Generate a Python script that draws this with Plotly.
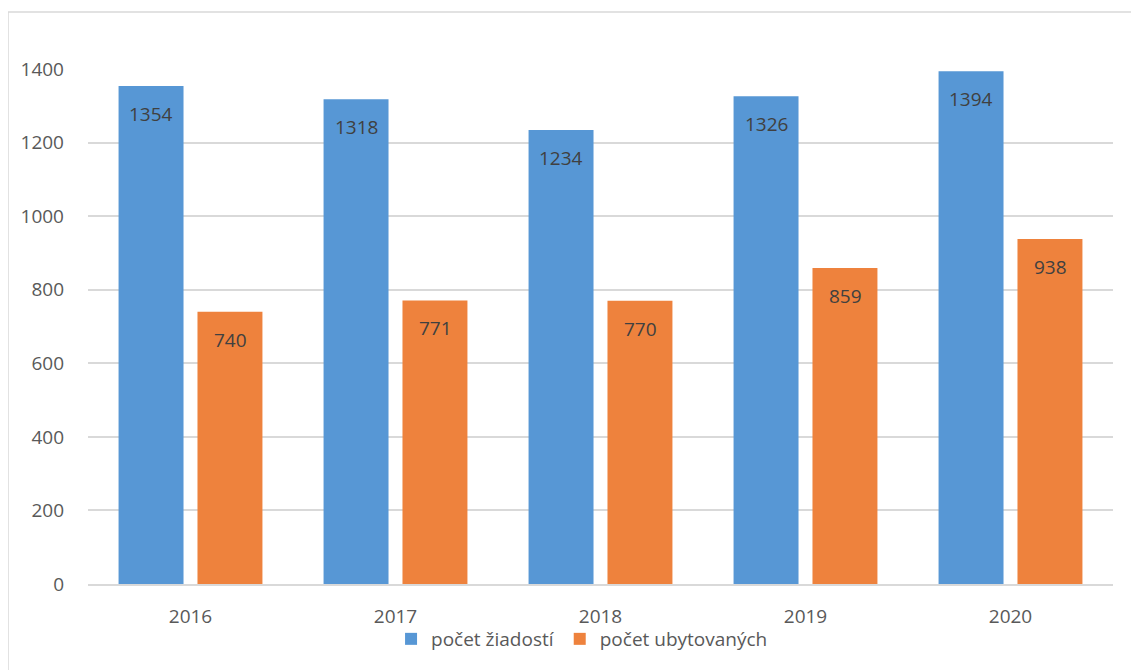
import plotly.graph_objects as go

years = ["2016", "2017", "2018", "2019", "2020"]
ziadosti = [1354, 1318, 1234, 1326, 1394]
ubytovanych = [740, 771, 770, 859, 938]
series_names = ["počet žiadostí", "počet ubytovaných"]
y_ticks = [0, 200, 400, 600, 800, 1000, 1200, 1400]

FONT = "Open Sans"
OFF = 8  # page body margin offset
W, H = 1139, 670
ml, mr, mt, mb = 88 - OFF, 26 + OFF, 69 - OFF, 86 + OFF
pw, ph = W - ml - mr, H - mt - mb

BLUE = "#5797d5"
ORANGE = "#ee823d"

fig = go.Figure()
fig.add_trace(go.Bar(x=years, y=ziadosti, name=series_names[0],
                     marker=dict(color=BLUE, line=dict(width=0))))
fig.add_trace(go.Bar(x=years, y=ubytovanych, name=series_names[1],
                     marker=dict(color=ORANGE, line=dict(width=0))))

# data labels near top of each bar (x given as category index)
for vals, shift in ((ziadosti, -39.5), (ubytovanych, 39.5)):
    for i, v in enumerate(vals):
        fig.add_annotation(x=i, y=v, xref="x", yref="y", text=str(v),
                           showarrow=False, xshift=shift, yshift=-28,
                           yanchor="middle", xanchor="center",
                           font=dict(family=FONT, size=19, color="#404040"))

def px_x(p):
    return (p - OFF - ml) / pw

def px_y(p):
    return (H - mb - (p - OFF)) / ph

fig.add_shape(type="rect", xref="paper", yref="paper",
              x0=px_x(8), x1=px_x(1160), y0=px_y(700), y1=px_y(12),
              line=dict(color="#d9d9d9", width=1.5), fillcolor="rgba(0,0,0,0)",
              layer="below")

fig.update_layout(
    width=W, height=H,
    margin=dict(l=ml, r=mr, t=mt, b=mb, autoexpand=False),
    paper_bgcolor="white", plot_bgcolor="white",
    barmode="group", bargap=0.23, bargroupgap=0.177,
    font=dict(family=FONT, size=19, color="#595959"),
    showlegend=True,
    legend=dict(orientation="h", x=0.482, xanchor="center", y=px_y(639), yanchor="middle",
                bgcolor="rgba(0,0,0,0)",
                font=dict(family=FONT, size=19, color="#595959"),
                traceorder="normal", itemclick=False, itemwidth=30),
    xaxis=dict(type="category", range=[-0.5, len(years) - 0.5], showgrid=False,
               showline=True, linecolor="#d9d9d9", linewidth=1.5, ticks="",
               tickfont=dict(family=FONT, size=19, color="#595959"),
               ticklabelstandoff=14),
    yaxis=dict(range=[0, 1400], tickvals=y_ticks, showgrid=True, gridcolor="#d9d9d9",
               gridwidth=1.5, zeroline=False, showline=False, ticks="",
               tickfont=dict(family=FONT, size=19, color="#595959"),
               ticklabelstandoff=23),
)

fig.write_html("out.html")
